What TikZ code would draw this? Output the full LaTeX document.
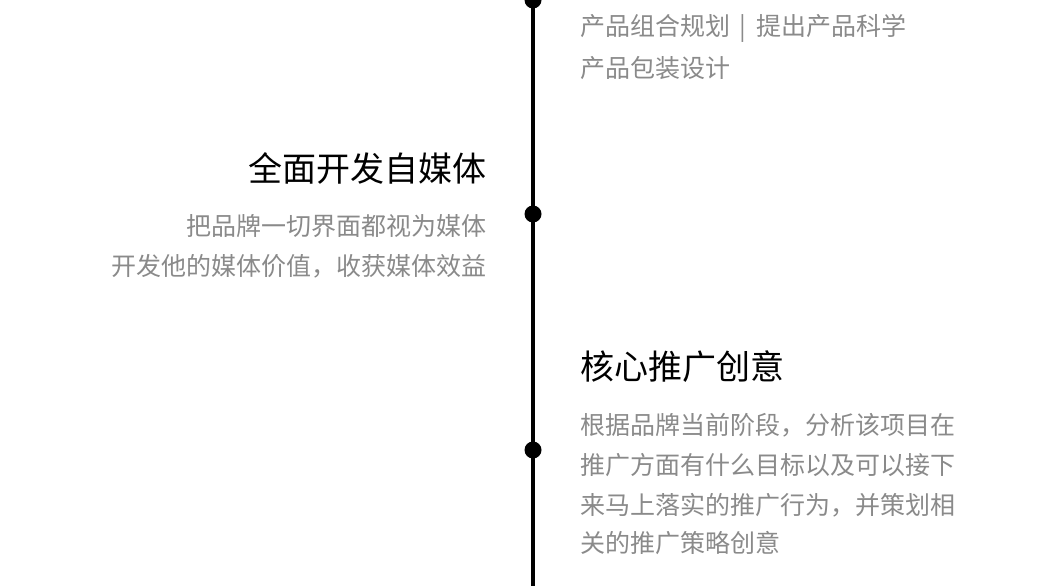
\documentclass[tikz,border=0pt]{standalone}
\usepackage{fontspec}
\newfontfamily\cjk{Noto Sans CJK SC}
\usetikzlibrary{positioning}
\definecolor{txtgray}{HTML}{8A8A8A}
\tikzset{
  title/.style={font=\cjk\fontsize{34}{40}\selectfont, text=black, inner sep=0pt},
  body/.style={font=\cjk\fontsize{25}{40}\selectfont, text=txtgray, inner sep=0pt},
  dot/.style={circle, fill=black, minimum size=17pt, inner sep=0pt},
}
\begin{document}
\begin{tikzpicture}[x=1pt,y=-1pt]
\useasboundingbox (0,0) rectangle (1063,586);
\clip (0,0) rectangle (1063,586);
%Line and dots
\coordinate (top) at (533,-10);
\coordinate (bottom) at (533,600);
\draw[line width=3.5pt] (top) -- (bottom);
\node[dot] (dot1) at (533,0) {};
\node[dot] (dot2) at (533,214) {};
\node[dot] (dot3) at (533,450) {};

%Top block
\node[body, anchor=west] (top1) at (580,28) {产品组合规划 \,|\, 提出产品科学};
\node[body, anchor=west] (top2) at (580,68) {产品包装设计};

%Left block
\node[title, anchor=east] (media) at (487,168) {全面开发自媒体};
\node[body, anchor=east] (media1) at (487,226) {把品牌一切界面都视为媒体};
\node[body, anchor=east] (media2) at (487,266) {开发他的媒体价值，收获媒体效益};

%Right block
\node[title, anchor=west] (idea) at (580,367) {核心推广创意};
\node[body, anchor=west] (idea1) at (580,425) {根据品牌当前阶段，分析该项目在};
\node[body, anchor=west] (idea2) at (580,465) {推广方面有什么目标以及可以接下};
\node[body, anchor=west] (idea3) at (580,505) {来马上落实的推广行为，并策划相};
\node[body, anchor=west] (idea4) at (580,543) {关的推广策略创意};
\end{tikzpicture}
\end{document}
